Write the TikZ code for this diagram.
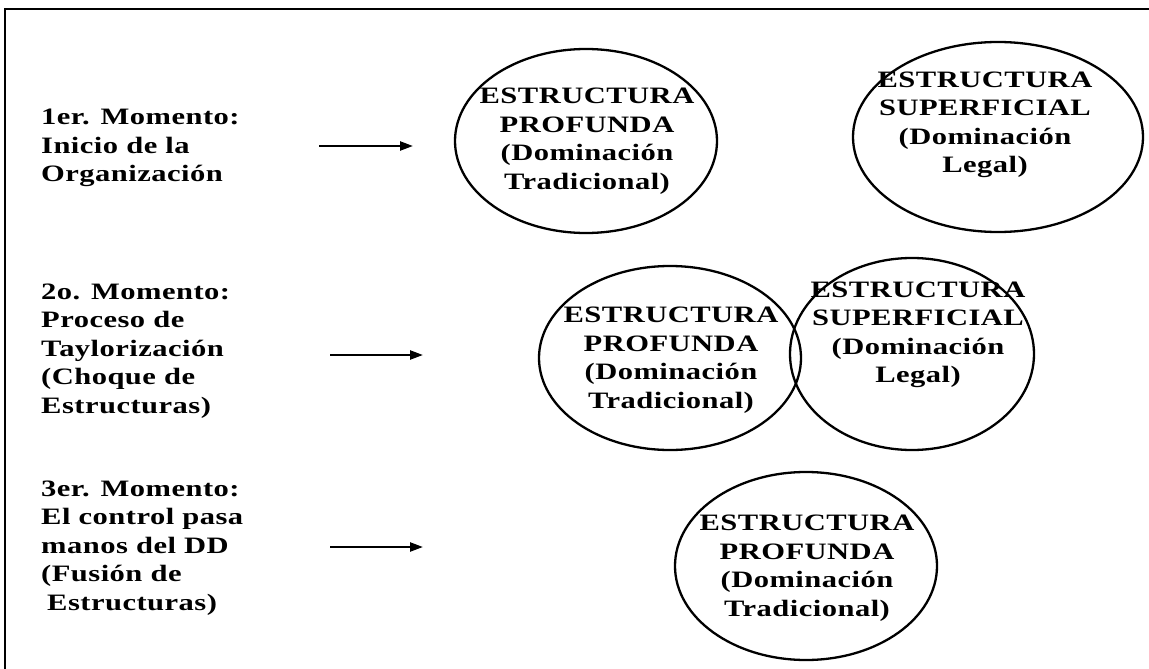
\documentclass[tikz,border=0pt]{standalone}
\usepackage{fontspec}
\newfontfamily\diagfont{Liberation Serif Bold}[FakeStretch=1.3, LetterSpace=2]
\usetikzlibrary{shapes.geometric,arrows.meta}

\tikzset{
  txtbase/.style={font=\diagfont\fontsize{23.5}{28.5}\selectfont, inner sep=0pt},
  lbl/.style={txtbase, align=left, anchor=west},
  etxt/.style={txtbase, align=center},
  oval/.style={ellipse, draw, line width=2.3pt, inner sep=0pt},
  arr/.style={line width=2.3pt, -{Triangle[length=13pt,width=9pt]}},
  frame/.style={line width=2.8pt},
}

\begin{document}
\begin{tikzpicture}[x=1pt,y=-1pt]
  \useasboundingbox (0,0) rectangle (1149,669);
  \clip (0,0) rectangle (1149,669);

  % outer frame (runs off the right and bottom edges)
  \draw[frame] (5,9) rectangle (1170,690);

  % stage labels
  \node[lbl] (m1) at (41,148) {1er. Momento:\\Inicio de la\\Organización};
  \node[lbl] (m2) at (41,351) {2o. Momento:\\Proceso de\\Taylorización\\(Choque de\\Estructuras)};
  \node[lbl] (m3) at (41,548) {3er. Momento:\\El control pasa\\manos del DD\\(Fusión de\\\hspace*{6pt}Estructuras)};

  % arrows
  \coordinate (a1s) at (319,146); \coordinate (a1e) at (413,146);
  \coordinate (a2s) at (330,355); \coordinate (a2e) at (423,355);
  \coordinate (a3s) at (330,547); \coordinate (a3e) at (423,547);
  \draw[arr] (a1s) -- (a1e);
  \draw[arr] (a2s) -- (a2e);
  \draw[arr] (a3s) -- (a3e);

  % row 1: separate structures
  \node[oval, minimum width=262pt, minimum height=184pt] (e1) at (586,141) {};
  \node[oval, minimum width=290pt, minimum height=190pt] (e2) at (998,137) {};
  \node[etxt] (t1) at (587,141) {ESTRUCTURA\\PROFUNDA\\(Dominación\\Tradicional)};
  \node[etxt] (t2) at (985,125) {ESTRUCTURA\\SUPERFICIAL\\(Dominación\\Legal)};

  % row 2: overlapping structures
  \node[oval, minimum width=262pt, minimum height=184pt] (e3) at (670,358) {};
  \node[oval, minimum width=244pt, minimum height=192pt] (e4) at (912,354) {};
  \node[etxt] (t3) at (671,360) {ESTRUCTURA\\PROFUNDA\\(Dominación\\Tradicional)};
  \node[etxt] (t4) at (918,335) {ESTRUCTURA\\SUPERFICIAL\\(Dominación\\Legal)};

  % row 3: single fused structure
  \node[oval, minimum width=262pt, minimum height=188pt] (e5) at (806,566) {};
  \node[etxt] (t5) at (807,568) {ESTRUCTURA\\PROFUNDA\\(Dominación\\Tradicional)};
\end{tikzpicture}
\end{document}
